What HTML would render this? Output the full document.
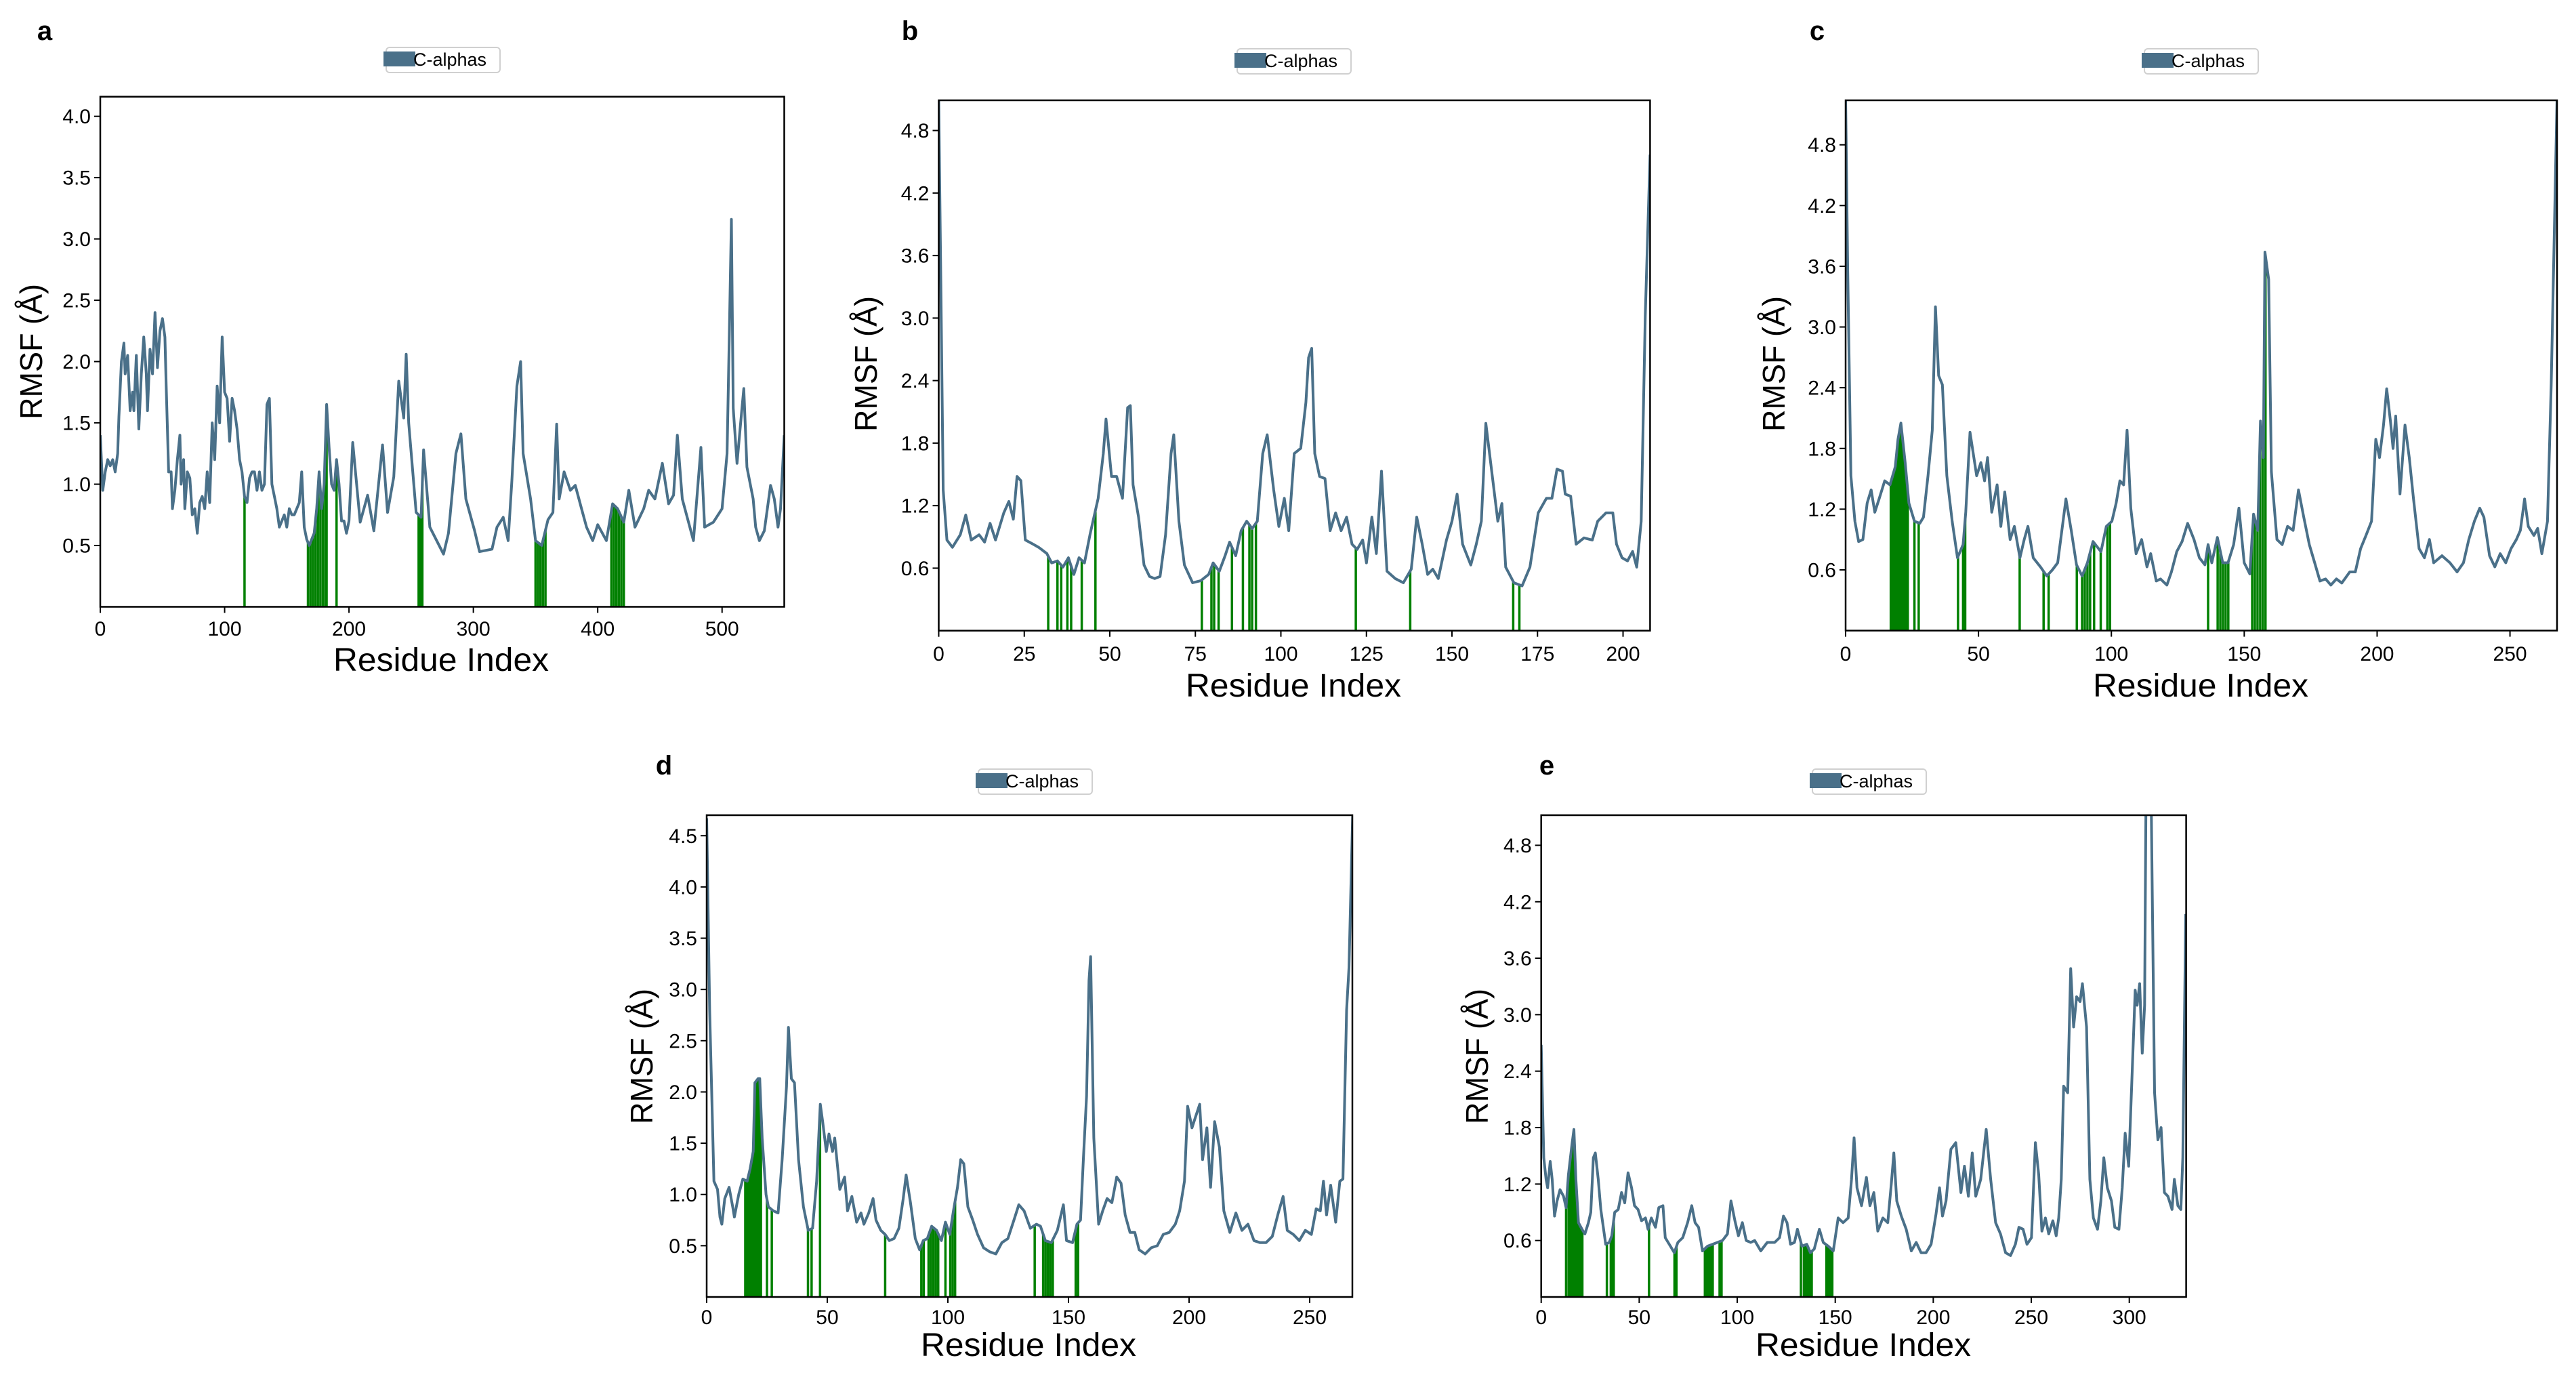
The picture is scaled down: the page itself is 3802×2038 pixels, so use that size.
<!DOCTYPE html>
<html><head><meta charset="utf-8"><style>
html,body{margin:0;padding:0;background:#fff}
svg{display:block}
text{font-family:"Liberation Sans",sans-serif}
</style></head><body>
<svg id="fig" width="3802" height="2038" viewBox="0 0 3802 2038" xmlns="http://www.w3.org/2000/svg">
<rect width="3802" height="2038" fill="#fff"/>
</svg>
<script>
// ---- panel a data ----
const aRes=[0,2,4,6,8,10,12,14,15,17,19,20,22,24,26,27,29,31,33,35,37,38,40,42,44,46,48,50,52,53,55,57,58,60,62,64,65,67,68,70,72,74,76,78,80,82,84,86,88,90,92,94,96,98,100,102,104,106,108,110,112,114,116,118,120,122,124,126,128,130,132,134,136,138,140,142,144,146,148,150,152,154,156,158,160,162,164,166,168,170,172,174,176,178,180,182,184,186,188,190,192,194,196,198,200,203,209,215,220,227,231,236,240,244,246,248,254,258,260,265,276,280,286,290,294,301,305,315,319,324,328,331,335,338,340,346,350,355,360,364,367,369,373,378,382,387,391,396,400,407,412,416,421,425,430,437,441,446,452,457,461,464,468,473,477,483,486,493,500,504,506,507.5,509,512,516,517.5,520,525,527,530,534,539,542,545,547,550];
const aVal=[1.4,0.95,1.1,1.2,1.15,1.2,1.1,1.25,1.55,2.0,2.15,1.9,2.05,1.6,1.75,1.6,2.05,1.45,1.9,2.2,1.9,1.6,2.1,1.9,2.4,1.95,2.25,2.35,2.2,1.8,1.1,1.1,0.8,0.95,1.2,1.4,1.0,1.2,0.8,1.1,1.05,0.75,0.8,0.6,0.85,0.9,0.8,1.1,0.85,1.5,1.2,1.8,1.5,2.2,1.75,1.7,1.35,1.7,1.6,1.45,1.2,1.1,0.9,0.85,1.05,1.1,1.1,0.95,1.1,0.95,1.0,1.65,1.7,1.0,0.9,0.8,0.65,0.7,0.75,0.65,0.8,0.75,0.75,0.8,0.85,1.1,0.65,0.55,0.5,0.55,0.6,0.8,1.1,0.8,1.0,1.65,1.3,1.0,0.95,1.2,1.0,0.7,0.7,0.6,0.7,1.34,0.69,0.91,0.62,1.32,0.77,1.06,1.84,1.54,2.06,1.5,0.77,0.73,1.28,0.65,0.43,0.6,1.25,1.41,0.88,0.62,0.45,0.47,0.65,0.73,0.54,1.03,1.8,2.0,1.25,0.88,0.54,0.5,0.71,0.77,1.49,0.88,1.1,0.95,0.99,0.8,0.65,0.54,0.67,0.54,0.84,0.8,0.69,0.95,0.65,0.8,0.95,0.88,1.17,0.84,0.91,1.4,0.88,0.69,0.54,1.3,0.65,0.69,0.8,1.25,2.3,3.16,1.62,1.17,1.62,1.78,1.14,0.88,0.65,0.54,0.62,0.99,0.88,0.65,0.8,1.4];
const aGreen=[116,167,169,171,173,175,177,179,181,182,190,256,257,258,259,350,352,354,356,358,411,413,415,417,419,421];
const aXTicks=[0,100,200,300,400,500];
const aYTicks=[0.5,1.0,1.5,2.0,2.5,3.0,3.5,4.0];
// ---- panel b data ----
const bRes=[0,1.3,2.4,4,6.3,7.9,9.5,11.8,13.4,15,16.6,19,20.5,21.8,22.9,24,25.3,27.6,29.2,31.6,33,34.7,36.3,37.9,39.5,41,42.6,44.2,46.6,48.1,48.9,50.5,52,53.7,55.2,56,56.8,58.4,60,61.6,63.1,64.7,66.3,67.9,68.7,70.2,71.8,74.2,76.6,78.9,80.2,82,83.7,85,86.8,88.4,90,91.6,93.1,94.7,96,97.9,99.4,101,102.3,103.9,105.8,107.3,108.1,109,109.9,111.3,112.9,114.4,116,117.6,119.2,120.8,122.3,123.9,125,126.6,127.9,129.4,131,133.4,135.8,138.1,139.7,141.3,142.9,144.4,146,148.4,150,151.5,153.1,155.5,157.1,158.6,159.9,161.8,163.4,164.6,165.7,168.1,170.5,172.8,175.2,177.6,179.2,180.7,182.3,183.1,184.7,186.3,188.6,191,192.6,195,197,198.1,199.7,201.3,202.8,204,205.3,206.5,207.9];
const bVal=[5.1,1.35,0.87,0.8,0.92,1.11,0.87,0.92,0.85,1.03,0.87,1.13,1.24,1.07,1.48,1.44,0.87,0.83,0.8,0.74,0.65,0.67,0.61,0.7,0.54,0.7,0.65,0.92,1.27,1.7,2.03,1.48,1.48,1.27,2.14,2.16,1.4,1.09,0.63,0.52,0.5,0.52,0.92,1.7,1.88,1.05,0.63,0.46,0.48,0.54,0.65,0.57,0.72,0.85,0.72,0.96,1.05,0.98,1.05,1.7,1.88,1.35,1.0,1.27,0.96,1.7,1.75,2.19,2.62,2.71,1.7,1.48,1.46,0.96,1.13,0.96,1.09,0.83,0.78,0.87,0.65,1.09,0.74,1.53,0.57,0.5,0.46,0.59,1.09,0.83,0.54,0.59,0.5,0.87,1.05,1.31,0.83,0.63,0.83,1.05,1.99,1.48,1.05,1.22,0.61,0.46,0.43,0.61,1.13,1.27,1.27,1.55,1.53,1.31,1.29,0.83,0.89,0.87,1.05,1.13,1.13,0.83,0.7,0.67,0.76,0.61,1.05,3.02,4.57];
const bGreen=[32,34.7,35.8,37.6,38.7,41.8,45.8,76.9,79.7,80.5,81.8,85.7,88.9,90.8,91.6,92.7,121.9,137.8,167.9,169.7];
const bXTicks=[0,25,50,75,100,125,150,175,200];
const bYTicks=[0.6,1.2,1.8,2.4,3.0,3.6,4.2,4.8];
// ---- panel c data ----
const cRes=[0,0.8,2,3.5,4.9,6.5,8.1,9.6,11,12.6,14.7,16.7,18.7,19.7,20.8,22.4,23.8,25.9,27.9,29.3,31,32.6,33.8,35,36.4,38.1,40.1,42.1,44.2,45.2,46.8,49.3,50.9,52.3,53.4,55,57,58.4,59.9,61.9,63.5,65.6,67.2,68.6,70.6,73.3,75.7,77.8,79.8,82.9,84.9,86.9,89,91,93.1,96.1,98.1,100.2,101.8,103.2,104.6,105.9,107.3,109.3,111.4,113.4,114.8,116.9,118.5,120.9,122.6,124.6,126.6,128.7,131.1,133.1,135.2,136.4,137.8,139.9,141.9,143.9,146,148,150,152.1,153.5,155.1,156.1,157.2,157.8,159.2,160.2,162.3,164.3,166.3,168.4,170.4,172.4,174.5,176.5,178.5,180.6,182.6,184.7,186.7,189.7,191.8,193.8,195.8,197.9,199.5,200.9,202.4,203.6,205,206,207,208.6,210.5,212.1,213.7,215.8,217.8,219.7,221.3,224.4,227.4,230.1,232.5,234.5,236.6,238.6,240.2,242.3,244.3,246.3,248.4,250.4,252.4,253.9,255.5,256.9,259,260.4,262,264.1,265.5,267.1,267.7];
const cVal=[5.25,3.56,1.53,1.08,0.88,0.9,1.26,1.39,1.17,1.3,1.48,1.44,1.62,1.89,2.05,1.66,1.26,1.08,1.06,1.12,1.53,1.98,3.2,2.52,2.43,1.53,1.08,0.72,0.85,1.17,1.96,1.53,1.66,1.48,1.71,1.17,1.44,1.03,1.37,0.9,1.03,0.72,0.9,1.03,0.72,0.63,0.54,0.6,0.67,1.3,0.99,0.65,0.54,0.67,0.88,0.78,1.03,1.08,1.26,1.48,1.44,1.98,1.21,0.76,0.9,0.63,0.76,0.49,0.51,0.45,0.58,0.78,0.88,1.06,0.9,0.72,0.65,0.85,0.67,0.92,0.67,0.67,0.85,1.21,0.67,0.56,1.15,0.99,2.07,1.71,3.74,3.47,1.57,0.9,0.85,1.03,0.99,1.39,1.12,0.85,0.67,0.49,0.51,0.45,0.51,0.47,0.58,0.58,0.81,0.94,1.08,1.89,1.71,2.03,2.39,2.07,1.8,2.12,1.35,2.03,1.71,1.3,0.81,0.72,0.9,0.67,0.74,0.67,0.58,0.67,0.9,1.08,1.21,1.12,0.74,0.63,0.76,0.67,0.81,0.9,0.99,1.3,1.03,0.94,1.01,0.76,1.08,2.43,4.46,5.25];
const cGreen=[17,17.5,18,18.5,19,19.5,20,20.5,21,21.5,22,22.5,23,23.4,25.9,27.5,42.3,44.2,45,65.5,74.5,76.4,87,89,90,91,92,93.5,96,98.5,99.5,136.4,140,141,142,143,144,153,154,155,156,157,158];
const cXTicks=[0,50,100,150,200,250];
const cYTicks=[0.6,1.2,1.8,2.4,3.0,3.6,4.2,4.8];
// ---- panel d data ----
const dRes=[0,1.25,3,4.5,5.5,6.3,7.5,9.3,10.8,11.5,13.3,15,16.8,18,19.3,20,21.3,22,23,24.6,25.6,27.6,29.6,31.3,33.1,33.9,35.1,36.4,38.1,40.1,42.1,43.9,45.6,47.1,48.1,49.6,50.7,52.2,53.1,55.2,57.2,58.4,60.2,62.2,64,65.2,67.2,69,70.2,72.2,74,75.7,77.7,79.7,81.5,82.7,84.5,86.5,88.3,89.8,91.5,93.3,95.3,97.3,99,100.8,102.3,104,105.3,106.6,108.3,110.3,112.3,114.8,117.4,119.9,122.4,124.9,127.4,129.4,131.6,134.2,136.7,138.4,140.4,142.9,145.4,147.9,149.2,151.7,153.5,155,156.2,157.5,158.5,159.2,160.5,162.5,164.2,166,168,170,171.8,173.5,175.5,177.5,179.3,181.8,184.3,186.8,189.3,191.8,194.3,196.1,198.1,199.4,201.2,202.6,204.4,205.6,207.4,208.9,210.6,212.6,214.4,216.9,219.4,221.9,224.4,226.9,229.4,231.9,234.5,237,239,240.7,243.2,245.7,248.2,250.7,252.7,254.4,255.7,257,258.7,260.8,262.5,263.8,265.3,266.3,267.8];
const dVal=[4.67,2.8,1.13,1.05,0.78,0.71,0.96,1.07,0.88,0.78,1.0,1.15,1.13,1.25,1.42,2.09,2.13,2.13,1.55,1.0,0.88,0.84,0.82,1.34,2.05,2.63,2.13,2.09,1.34,0.88,0.65,0.67,1.13,1.88,1.71,1.42,1.59,1.42,1.55,1.05,1.17,0.84,0.98,0.73,0.82,0.71,0.82,0.96,0.75,0.65,0.61,0.55,0.57,0.67,0.96,1.19,0.92,0.57,0.46,0.55,0.57,0.69,0.65,0.55,0.73,0.61,0.84,1.07,1.34,1.3,0.88,0.75,0.61,0.48,0.44,0.42,0.53,0.57,0.75,0.9,0.84,0.67,0.71,0.69,0.55,0.53,0.65,0.9,0.55,0.53,0.71,0.75,1.36,1.96,3.09,3.32,1.55,0.71,0.84,0.96,0.92,1.17,1.11,0.8,0.63,0.63,0.46,0.42,0.48,0.5,0.61,0.63,0.71,0.84,1.13,1.86,1.65,1.75,1.88,1.34,1.65,1.07,1.71,1.46,0.84,0.63,0.82,0.65,0.71,0.55,0.53,0.53,0.59,0.82,0.98,0.65,0.61,0.55,0.65,0.61,0.86,0.84,1.13,0.8,1.09,0.73,1.13,1.15,2.8,3.21,4.69];
const dGreen=[16,16.5,17,17.5,18,18.5,19,19.5,20,20.5,21,21.5,22,22.5,25,27,42,43.5,47,74,89,90,92,93,94,95,96,99,101,102,103,136,139.5,140.5,141.5,142.5,143.5,153,154];
const dXTicks=[0,50,100,150,200,250];
const dYTicks=[0.5,1.0,1.5,2.0,2.5,3.0,3.5,4.0,4.5];
// ---- panel e data ----
const eRes=[0,1.3,2.5,3.3,4.6,5.6,6.8,8.1,9.6,11.4,12.7,13.9,15.7,16.7,17.7,19,20.8,22.3,24.1,25.3,26.6,27.6,29.1,30.4,31.7,32.9,34.7,36,37.5,39.3,41,42.6,44.3,46.1,47.6,49.4,51.2,53.2,54.5,56.2,58.3,60,62.1,63.3,65.9,67.9,69.7,72.2,74.7,76.8,78.5,80.3,82.3,84.9,87.4,89.9,92.5,95,96.8,98.8,100.6,102.6,104.6,106.9,108.9,112,115.3,119.1,121.6,123.6,125.4,127.2,129.2,130.7,133,135.5,137.3,139.3,141.9,143.9,146.4,149,151.5,154,156.6,158.3,159.6,161.1,163.4,165.9,167.7,169.7,171.7,174.3,176.8,178.6,179.9,181.4,183.7,186.2,188.8,191.3,193.8,196.3,198.9,201.4,203.2,204.7,206.5,209,211.5,214.1,215.9,217.9,219.9,221.7,224.2,227,229.3,231.8,234.3,236.9,239.4,241.9,243.7,245.8,247.8,250.1,252.1,253.8,255.4,257.2,258.9,261,262.7,264,265.3,266.5,268.6,270.1,271.6,273.1,274.9,276.1,278.2,279.9,281.7,283.8,285.5,287,288.8,290.9,292.6,294.7,296.4,297.9,299.7,301.5,303,304,305.3,306.6,307.8,308.6,309.8,311,312.9,314.6,316.2,317.9,319.7,321.8,323,324.8,326.3,327.3,328.8];
const eVal=[2.68,1.48,1.25,1.16,1.44,1.25,0.86,1.02,1.14,1.07,0.95,1.3,1.62,1.78,1.25,0.79,0.72,0.67,0.79,0.9,1.48,1.53,1.25,0.93,0.74,0.56,0.58,0.65,0.9,0.93,1.11,1.0,1.32,1.16,0.97,0.93,0.81,0.84,0.72,0.84,0.74,0.95,0.97,0.63,0.54,0.47,0.58,0.63,0.79,0.97,0.79,0.74,0.49,0.54,0.56,0.58,0.6,0.67,1.02,0.81,0.65,0.79,0.6,0.58,0.6,0.49,0.58,0.58,0.63,0.86,0.79,0.56,0.58,0.72,0.54,0.56,0.47,0.51,0.72,0.58,0.54,0.49,0.84,0.79,0.84,1.25,1.69,1.16,0.97,1.27,0.97,1.11,0.7,0.84,0.79,1.2,1.53,1.02,0.86,0.72,0.49,0.58,0.47,0.47,0.56,0.88,1.16,0.86,1.02,1.57,1.64,1.11,1.39,1.07,1.53,1.07,1.25,1.78,1.25,0.79,0.67,0.47,0.44,0.56,0.74,0.72,0.56,0.63,1.64,1.3,0.7,0.84,0.67,0.81,0.65,0.84,1.25,2.24,2.17,3.49,2.87,3.19,3.14,3.33,2.87,1.25,0.84,0.72,1.02,1.48,1.16,1.02,0.74,0.72,1.16,1.74,1.39,2.4,3.26,3.1,3.33,2.59,3.1,5.6,5.8,5.6,2.17,1.67,1.8,1.11,1.07,0.93,1.25,0.97,0.93,1.48,4.07];
const eGreen=[12.7,14,15,16,17,18,19,20,21,33.5,35.5,36.5,37,55,68,69,83.5,84.5,85.5,86.5,87.5,91,92,132.5,134,135,136,137,138,145.5,146.5,147.5,148.5];
const eXTicks=[0,50,100,150,200,250,300];
const eYTicks=[0.6,1.2,1.8,2.4,3.0,3.6,4.2,4.8];

const NS="http://www.w3.org/2000/svg";
const svg=document.getElementById('fig');
function mk(tag,attrs,parent){const el=document.createElementNS(NS,tag);for(const k in attrs)el.setAttribute(k,attrs[k]);(parent||svg).appendChild(el);return el;}
function interp(xs,ys,x){if(x<=xs[0])return ys[0];for(let i=1;i<xs.length;i++){if(x<=xs[i]){const t=(x-xs[i-1])/(xs[i]-xs[i-1]);return ys[i-1]+t*(ys[i]-ys[i-1]);}}return ys[ys.length-1];}

const panels=[
 {id:'a',res:aRes,val:aVal,green:aGreen,xt:aXTicks,yt:aYTicks,l:148,r:1157.5,t:142.7,b:895.5,xmax:550,ymax:4.16,yd:1,
  letter:[66,59],leg:[566,70],ylx:46,yly:519,xlx:651,xly:990,xtl:938},
 {id:'b',res:bRes,val:bVal,green:bGreen,xt:bXTicks,yt:bYTicks,l:1385.5,r:2435.4,t:148,b:930.7,xmax:207.9,ymax:5.09,yd:1,
  letter:[1343,59],leg:[1822,72],ylx:1278,yly:537,xlx:1909,xly:1028,xtl:975},
 {id:'c',res:cRes,val:cVal,green:cGreen,xt:cXTicks,yt:cYTicks,l:2724,r:3774,t:148,b:930.6,xmax:267.7,ymax:5.24,yd:1,
  letter:[2682,59],leg:[3161,72],ylx:2618,yly:537,xlx:3248,xly:1028,xtl:975},
 {id:'d',res:dRes,val:dVal,green:dGreen,xt:dXTicks,yt:dYTicks,l:1043,r:1996,t:1203,b:1914,xmax:267.7,ymax:4.70,yd:1,
  letter:[980,1143],leg:[1440,1135],ylx:947,yly:1559,xlx:1518,xly:2001,xtl:1954},
 {id:'e',res:eRes,val:eVal,green:eGreen,xt:eXTicks,yt:eYTicks,l:2274.7,r:3226.6,t:1203,b:1914,xmax:329,ymax:5.12,yd:1,
  letter:[2283,1143],leg:[2671,1135],ylx:2180,yly:1559,xlx:2750,xly:2001,xtl:1954}
];

panels.forEach(p=>{
  const g=mk('g',{});
  
  
  const X=v=>p.l+(v/p.xmax)*(p.r-p.l);
  const Y=v=>p.b-(v/p.ymax)*(p.b-p.t);
  const cp=mk('clipPath',{id:'clip-'+p.id},g);
  mk('rect',{x:p.l,y:p.t,width:p.r-p.l,height:p.b-p.t},cp);
  // green bars
  const gg=mk('g',{'clip-path':'url(#clip-'+p.id+')'},g);
  
  
  p.green.forEach(r=>{
    const v=interp(p.res,p.val,r);
    const ln=mk('line',{x1:X(r),x2:X(r),y1:p.b,y2:Y(v),stroke:'#008000','stroke-width':3.5},gg);
    
    
  });
  // series line
  let d='';
  p.res.forEach((r,i)=>{d+=(i?'L':'M')+X(r).toFixed(1)+','+Y(p.val[i]).toFixed(1);});
  const path=mk('path',{d:d,fill:'none',stroke:'#4a7089','stroke-width':4,'stroke-linejoin':'round','clip-path':'url(#clip-'+p.id+')'},g);
  
  
  // frame
  const fr=mk('rect',{x:p.l,y:p.t,width:p.r-p.l,height:p.b-p.t,fill:'none',stroke:'#000','stroke-width':2.5},g);
  
  
  // x ticks
  p.xt.forEach(v=>{
    mk('line',{x1:X(v),x2:X(v),y1:p.b,y2:p.b+9,stroke:'#000','stroke-width':2},g);
    const t=mk('text',{x:X(v),y:p.xtl,'font-size':30,'text-anchor':'middle',fill:'#000'},g);
    t.textContent=String(v);
    
    
  });
  p.yt.forEach(v=>{
    mk('line',{x1:p.l-9,x2:p.l,y1:Y(v),y2:Y(v),stroke:'#000','stroke-width':2},g);
    const t=mk('text',{x:p.l-14,y:Y(v)+10.5,'font-size':30,'text-anchor':'end',fill:'#000'},g);
    t.textContent=v.toFixed(1);
    
    
  });
  // axis titles
  const xl=mk('text',{x:p.xlx,y:p.xly,'font-size':48,'text-anchor':'middle',fill:'#000',textLength:318,lengthAdjust:'spacingAndGlyphs'},g);
  xl.textContent='Residue Index';
  
  
  const yl=mk('text',{x:0,y:0,'font-size':46,'text-anchor':'middle',fill:'#000',transform:'translate('+(p.ylx+16)+','+p.yly+') rotate(-90)',textLength:200,lengthAdjust:'spacingAndGlyphs'},g);
  yl.textContent='RMSF (Å)';
  
  
  // letter
  const lt=mk('text',{x:p.letter[0],y:p.letter[1],'font-size':40,'font-weight':'bold','text-anchor':'middle',fill:'#000'},g);
  lt.textContent=p.id;
  
  
  // legend
  const lg=mk('g',{},g);
  
  
  const lx=p.leg[0], ly=p.leg[1];
  mk('rect',{x:lx+4,y:ly,width:168,height:37,rx:5,fill:'#fff',stroke:'#d0d0d0','stroke-width':2},lg);
  const sw=mk('rect',{x:lx,y:ly+6,width:47,height:22,fill:'#4a7089'},lg);
  
  
  const ltx=mk('text',{x:lx+44,y:ly+27,'font-size':27,fill:'#000'},lg);
  ltx.textContent='C-alphas';
  
  
});
</script>
</body></html>
